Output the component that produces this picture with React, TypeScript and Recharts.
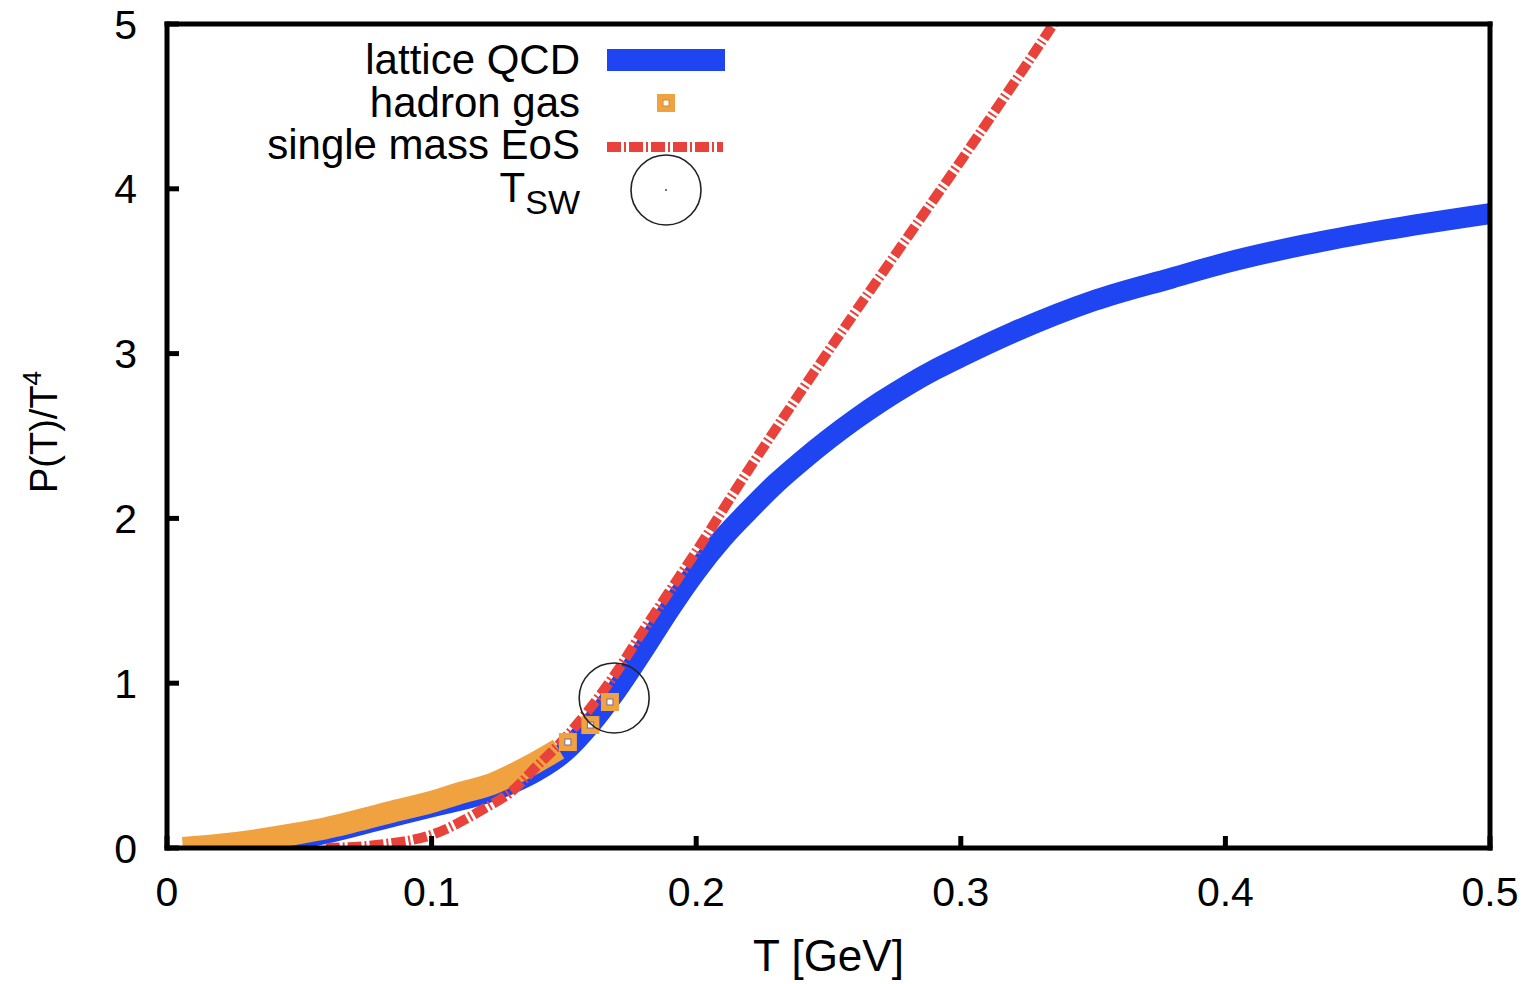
import React from 'react';
import { ComposedChart, Line, Scatter, XAxis, YAxis } from 'recharts';

// T [GeV] / P(T)/T^4
const latticeT = [0.015, 0.02, 0.04, 0.06, 0.08, 0.1, 0.12, 0.13, 0.14, 0.15, 0.16, 0.17, 0.18, 0.19, 0.2, 0.21, 0.22, 0.23, 0.24, 0.25, 0.26, 0.27, 0.28, 0.29, 0.3, 0.32, 0.35, 0.38, 0.4, 0.43, 0.46, 0.5];
const latticeP = [0.0, 0.0, 0.03, 0.09, 0.17, 0.25, 0.33, 0.39, 0.47, 0.58, 0.75, 0.96, 1.2, 1.45, 1.68, 1.88, 2.05, 2.21, 2.35, 2.48, 2.6, 2.71, 2.81, 2.9, 2.98, 3.13, 3.32, 3.46, 3.55, 3.66, 3.75, 3.85];

const hadronT = [0.006, 0.02, 0.035, 0.05, 0.06, 0.085, 0.1, 0.11, 0.123, 0.136, 0.148];
const hadronP = [0.0, 0.02, 0.05, 0.09, 0.12, 0.22, 0.28, 0.33, 0.39, 0.49, 0.6];

const hadronPtsT = [0.1515, 0.16, 0.1674];
const hadronPtsP = [0.643, 0.746, 0.886];

const singleT = [0.06, 0.08, 0.1, 0.12, 0.13, 0.14, 0.15, 0.16, 0.17, 0.18, 0.19, 0.2, 0.22, 0.24, 0.26, 0.28, 0.3, 0.32, 0.34];
const singleP = [0.0, 0.02, 0.08, 0.24, 0.34, 0.5, 0.66, 0.85, 1.07, 1.32, 1.56, 1.8, 2.3, 2.78, 3.25, 3.71, 4.17, 4.64, 5.12];

const tswT = [0.169];
const tswP = [0.91];

const xTicks = [0, 0.1, 0.2, 0.3, 0.4, 0.5];
const yTicks = [0, 1, 2, 3, 4, 5];

const zip = (xs: number[], ys: number[]) => xs.map((T, i) => ({ T, P: ys[i] }));

const latticeData = zip(latticeT, latticeP);
const hadronData = zip(hadronT, hadronP);
const hadronPts = zip(hadronPtsT, hadronPtsP);
const singleData = zip(singleT, singleP);
const tswData = zip(tswT, tswP);

const FONT = '"Liberation Sans", Arial, Helvetica, sans-serif';
const BLUE = '#1f45f2';
const ORANGE = '#f0a241';
const RED = '#e8423a';

const frameLine = { stroke: '#000', strokeWidth: 5, strokeLinecap: 'square' as const };
const tickLine = { stroke: '#000', strokeWidth: 5 };
const tickText = { fill: '#000', fontSize: 41, fontFamily: FONT };
const blank = () => '';

const HadronSquare = (props: any) => {
  const { cx, cy } = props;
  return (
    <g>
      <rect x={cx - 9} y={cy - 9} width={18} height={18} fill={ORANGE} />
      <rect x={cx - 3} y={cy - 3} width={6} height={6} fill="#fff" stroke="#7a6a9a" strokeWidth={1} />
    </g>
  );
};

const TswCircle = (props: any) => {
  const { cx, cy } = props;
  return <circle cx={cx} cy={cy} r={35} fill="none" stroke="#222" strokeWidth={1.6} />;
};

const YLabel = () => (
  <text transform="translate(57,432) rotate(-90)" textAnchor="middle" fontFamily={FONT} fontSize={38} fill="#000">
    P(T)/T<tspan dy={-16} fontSize={26}>4</tspan>
  </text>
);

function LegendBox() {
  return (
    <svg width={1537} height={984} style={{ position: 'absolute', left: 0, top: 0, pointerEvents: 'none' }}>
      <g fontFamily={FONT} fontSize={42} fill="#000" textAnchor="end">
        <text x={580} y={74}>lattice QCD</text>
        <text x={580} y={117}>hadron gas</text>
        <text x={580} y={159}>single mass EoS</text>
        <text x={580} y={202}>
          T<tspan dy={12} fontSize={34}>SW</tspan>
        </text>
      </g>
      <rect x={607} y={49} width={118} height={22} fill={BLUE} />
      <rect x={657} y={94} width={18} height={18} fill={ORANGE} />
      <rect x={663} y={100} width={6} height={6} fill="#fff" stroke="#c98a30" strokeWidth={1} />
      <line x1={607} x2={723} y1={147} y2={147} stroke={RED} strokeWidth={10} strokeDasharray="14 3 2 3" />
      <circle cx={666} cy={190} r={35} fill="none" stroke="#222" strokeWidth={1.6} />
      <circle cx={666} cy={190} r={1} fill="#444" />
    </svg>
  );
}

export default function App() {
  return (
    <div style={{ position: 'absolute', left: 0, top: 0, width: 1537, height: 984, background: '#fff' }}>
      <ComposedChart width={1537} height={984} margin={{ top: 23, right: 46, bottom: 135, left: 166 }}>
        <XAxis
          xAxisId="b"
          type="number"
          dataKey="T"
          domain={[0, 0.5]}
          ticks={xTicks}
          allowDataOverflow
          height={1}
          axisLine={frameLine}
          tickLine={tickLine}
          tickSize={-12}
          tickMargin={41}
          tick={tickText}
          interval={0}
          label={{ value: 'T [GeV]', position: 'bottom', offset: 91, fill: '#000', fontSize: 44, fontFamily: FONT }}
        />
        <XAxis
          xAxisId="t"
          orientation="top"
          type="number"
          dataKey="T"
          domain={[0, 0.5]}
          ticks={xTicks}
          height={1}
          axisLine={frameLine}
          tickLine={tickLine}
          tickSize={-12}
          tickFormatter={blank}
          interval={0}
        />
        <YAxis
          yAxisId="l"
          type="number"
          dataKey="P"
          domain={[0, 5]}
          ticks={yTicks}
          allowDataOverflow
          width={1}
          axisLine={frameLine}
          tickLine={tickLine}
          tickSize={-12}
          tickMargin={42}
          tick={tickText}
          interval={0}
          label={{ content: YLabel }}
        />
        <YAxis
          yAxisId="r"
          orientation="right"
          type="number"
          dataKey="P"
          domain={[0, 5]}
          ticks={yTicks}
          width={1}
          axisLine={frameLine}
          tickLine={tickLine}
          tickSize={-12}
          tickFormatter={blank}
          interval={0}
        />
        <Line xAxisId="b" yAxisId="l" data={latticeData} dataKey="P" type="monotone" stroke={BLUE} strokeWidth={21} dot={false} activeDot={false} isAnimationActive={false} />
        <Line xAxisId="b" yAxisId="l" data={hadronData} dataKey="P" type="monotone" stroke={ORANGE} strokeWidth={22} dot={false} activeDot={false} isAnimationActive={false} />
        <Line xAxisId="b" yAxisId="l" data={singleData} dataKey="P" type="monotone" stroke={RED} strokeWidth={10} strokeDasharray="14 3 2 3" dot={false} activeDot={false} isAnimationActive={false} />
        <Scatter xAxisId="b" yAxisId="l" data={hadronPts} dataKey="P" shape={HadronSquare} isAnimationActive={false} />
        <Scatter xAxisId="b" yAxisId="l" data={tswData} dataKey="P" shape={TswCircle} isAnimationActive={false} />
      </ComposedChart>
      <LegendBox />
    </div>
  );
}
